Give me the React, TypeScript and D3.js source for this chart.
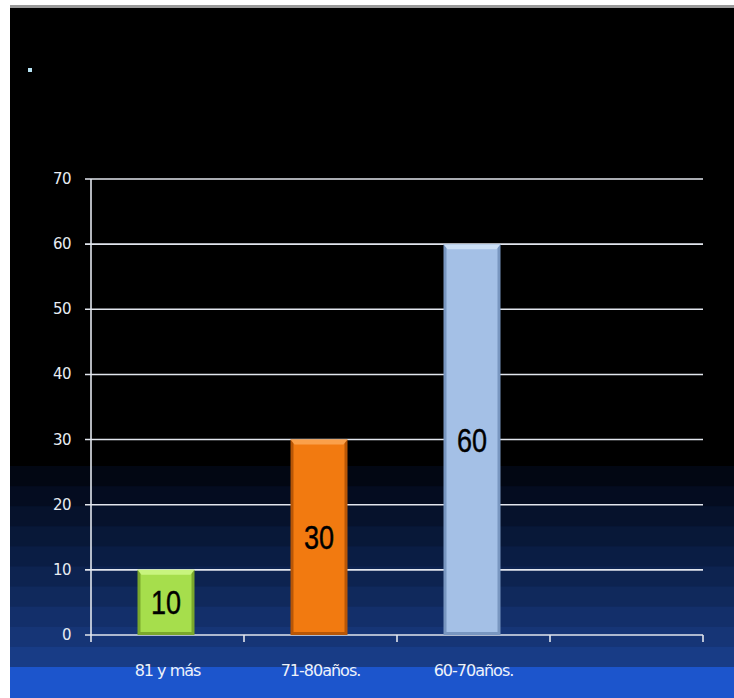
import React, { useEffect } from "react";
import * as d3 from "d3";

const categories = ["81 y más", "71-80años.", "60-70años.", ""];
const values = [10, 30, 60];
const barColors = ["#a6de4c", "#f27a10", "#a4c0e6"];
const barLight = ["#c8f47e", "#fba04a", "#cde0f6"];
const barDark = ["#7aa82c", "#b85606", "#7896c0"];
const yTicks = [0, 10, 20, 30, 40, 50, 60, 70];
const bandColors = [
  "#020713", "#040c20", "#06122c", "#081838", "#0a1d44", "#0d2350",
  "#10295c", "#132f6a", "#163576", "#183c86", "#1c55cc",
];

export default function App() {
  useEffect(() => {
    document.body.style.margin = "0";
  }, []);
  const W = 734, H = 698;
  const y = d3.scaleLinear().domain([0, 70]).range([635, 179]);
  const x = d3.scaleBand().domain(categories.map((c, i) => String(i))).range([91, 703]).padding(0);
  const bw = 57;
  return (
    <svg width={W} height={H} style={{ display: "block" }}>
      <rect x={0} y={0} width={W} height={H} fill="#ffffff" />
      <rect x={10} y={5} width={W - 10} height={3} fill="#9a9a9a" />
      <rect x={10} y={8} width={W - 10} height={H - 8} fill="#000000" />
      {bandColors.map((c, i) => {
        const top = 466 + i * (201 / 10);
        return <rect key={i} x={10} y={i === 10 ? 667 : top} width={W - 10} height={i === 10 ? H - 667 : 21} fill={c} />;
      })}
      <rect x={28} y={68} width={4} height={4} fill="#b8e4f4" />
      {yTicks.map((t) => (
        <g key={t}>
          <line x1={85} x2={703} y1={y(t)} y2={y(t)} stroke="#e2e6ee" strokeWidth={1.6} />
          <text x={71} y={y(t) + 5} textAnchor="end" fill="#e8ecf2" fontSize={15} fontFamily="DejaVu Sans" letterSpacing={-0.5}>{t}</text>
        </g>
      ))}
      <line x1={91} x2={91} y1={y(70)} y2={642} stroke="#e2e6ee" strokeWidth={1.6} />
      {categories.map((c, i) => (
        <line key={"t" + i} x1={(x(String(i)) as number) + x.bandwidth()} x2={(x(String(i)) as number) + x.bandwidth()} y1={y(0)} y2={642} stroke="#e2e6ee" strokeWidth={1.6} />
      ))}
      {values.map((v, i) => {
        const cx = (x(String(i)) as number) + x.bandwidth() / 2 - 1.5;
        const x0 = cx - bw / 2;
        const top = y(v);
        const h = y(0) - top;
        return (
          <g key={i}>
            <rect x={x0} y={top} width={bw} height={h} fill={barDark[i]} />
            <rect x={x0 + 3} y={top + 2} width={bw - 6} height={h - 5} fill={barColors[i]} />
            <polygon points={`${x0},${top} ${x0 + bw},${top} ${x0 + bw - 4},${top + 5} ${x0 + 4},${top + 5}`} fill={barLight[i]} />
            <text transform={`translate(${cx},${top + h / 2 + 12}) scale(0.82,1)`} textAnchor="middle" fontSize={33} fontFamily="Liberation Sans, Arial" fill="#000" stroke="#000" strokeWidth={0.4}>{v}</text>
          </g>
        );
      })}
      {categories.map((c, i) => (
        <text key={"c" + i} x={(x(String(i)) as number) + x.bandwidth() / 2} y={676} textAnchor="middle" fill="#eef2f8" fontSize={16} fontFamily="DejaVu Sans" letterSpacing={-1}>{c}</text>
      ))}
    </svg>
  );
}
